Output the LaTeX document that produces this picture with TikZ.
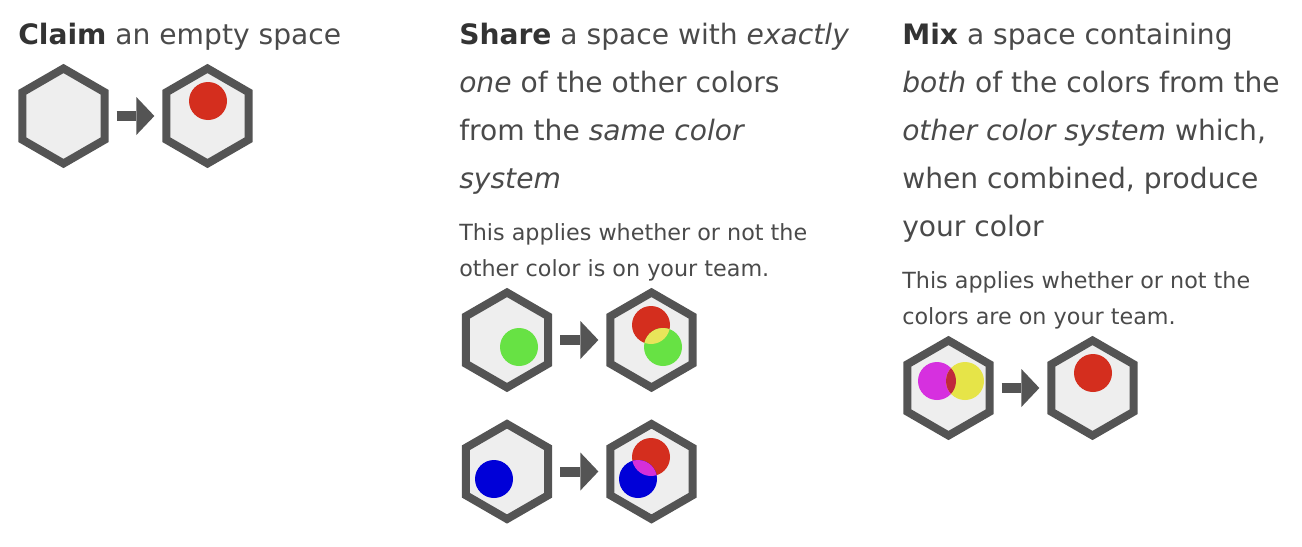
\documentclass[tikz,border=0pt]{standalone}
\usepackage{fontspec}
\setmainfont{DejaVu Sans}
\usetikzlibrary{arrows.meta,shapes.geometric}
\definecolor{ink}{HTML}{4A4A4A}
\definecolor{inkbold}{HTML}{333333}
\definecolor{hexline}{HTML}{545454}
\definecolor{hexfill}{HTML}{EEEEEE}
\definecolor{cred}{HTML}{D42E1E}
\definecolor{cgreen}{HTML}{67E244}
\definecolor{cblue}{HTML}{0000D8}
\definecolor{cmagenta}{HTML}{D630DF}
\definecolor{cyellow}{HTML}{E6E448}
\definecolor{rgmix}{HTML}{E8E55A}
\definecolor{rbmix}{HTML}{D52FD9}
\definecolor{mymix}{HTML}{C0283C}
\begin{document}
\begin{tikzpicture}[x=0.75pt,y=-0.75pt,
  hexcell/.style={regular polygon, regular polygon sides=6, shape border rotate=30,
    minimum size=71.25pt, inner sep=0pt, outer sep=3pt, draw=hexline, fill=hexfill,
    line width=6pt, line join=miter},
  flow/.style={draw=hexline, line width=7.5pt,
    -{Triangle[length=13.5pt,width=28.5pt,line width=0pt]},
    shorten <=6pt, shorten >=6pt},
  head/.style={anchor=base west, inner sep=0pt, text=ink, font=\fontsize{21.1}{25}\selectfont},
  note/.style={anchor=base west, inner sep=0pt, text=ink, font=\fontsize{16.7}{20}\selectfont}]
\useasboundingbox (0,0) rectangle (1302,546);

% ---- column 1: claim
\node[head] (c1) at (18,44) {{\bfseries\color{inkbold}Claim} an empty space};
\node[hexcell] (h1) at (63.5,116) {};
\node[hexcell] (h2) at (207.5,116) {};
\draw[flow] (h1) -- (h2);
\fill[cred] (208,101) circle[radius=14.25pt];

% ---- column 2: share
\node[head] (s1) at (459,44) {{\bfseries\color{inkbold}Share} a space with \textit{exactly}};
\node[head] (s2) at (459,92) {\textit{one} of the other colors};
\node[head] (s3) at (459,140) {from the \textit{same color}};
\node[head] (s4) at (459,188) {\textit{system}};
\node[note] (s5) at (459,240) {This applies whether or not the};
\node[note] (s6) at (459,276) {other color is on your team.};

\node[hexcell] (hA) at (507,340) {};
\node[hexcell] (hB) at (651.5,340) {};
\draw[flow] (hA) -- (hB);
\fill[cgreen] (519,347) circle[radius=14.25pt];
\fill[cred] (651,325) circle[radius=14.25pt];
\fill[cgreen] (663,347) circle[radius=14.25pt];
\begin{scope}
  \clip (651,325) circle[radius=14.25pt];
  \fill[rgmix] (663,347) circle[radius=14.25pt];
\end{scope}

\node[hexcell] (hC) at (507,471.5) {};
\node[hexcell] (hD) at (651.5,471.5) {};
\draw[flow] (hC) -- (hD);
\fill[cblue] (494,479) circle[radius=14.25pt];
\fill[cred] (651,457) circle[radius=14.25pt];
\fill[cblue] (638,479) circle[radius=14.25pt];
\begin{scope}
  \clip (651,457) circle[radius=14.25pt];
  \fill[rbmix] (638,479) circle[radius=14.25pt];
\end{scope}

% ---- column 3: mix
\node[head] (m1) at (902,44) {{\bfseries\color{inkbold}Mix} a space containing};
\node[head] (m2) at (902,92) {\textit{both} of the colors from the};
\node[head] (m3) at (902,140) {\textit{other color system} which,};
\node[head] (m4) at (902,188) {when combined, produce};
\node[head] (m5) at (902,236) {your color};
\node[note] (m6) at (902,288) {This applies whether or not the};
\node[note] (m7) at (902,324) {colors are on your team.};

\node[hexcell] (hE) at (948.5,388) {};
\node[hexcell] (hF) at (1092.5,388) {};
\draw[flow] (hE) -- (hF);
\fill[cmagenta] (937,381) circle[radius=14.25pt];
\fill[cyellow] (965,381) circle[radius=14.25pt];
\begin{scope}
  \clip (937,381) circle[radius=14.25pt];
  \fill[mymix] (965,381) circle[radius=14.25pt];
\end{scope}
\fill[cred] (1093,373) circle[radius=14.25pt];
\end{tikzpicture}
\end{document}
